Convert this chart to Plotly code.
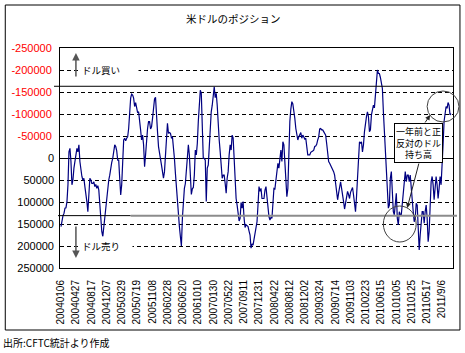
import datetime as dt
import pandas as pd
import plotly.graph_objects as go

# ---------------- data ----------------
title_text = "米ドルのポジション"
source_text = "出所:CFTC統計より作成"
buy_text = "ドル買い"
sell_text = "ドル売り"
note_text = "一年前と正<br>反対のドル<br>持ち高"

start_date = "2004-01-06"
end_date = "2011-11-11"

# net USD position (thousand contracts), roughly weekly
position_k = [
    156, 137, 131, 126, 114, 113, 99, 61, -14, -22,
    8, 61, 50, 23, 5, -7, -22, -14, -30, 8,
    35, 42, 50, 46, 65, 80, 99, 122, 69, 46,
    50, 58, 58, 54, 65, 60, 69, 63, 73, 107,
    137, 167, 179, 156, 141, 122, 95, 69, 50, 39,
    16, 10, 1, -11, -30, -26, -16, 5, 5, 46,
    84, 61, 12, -41, -45, -39, -45, -48, -67, -114,
    -136, -145, -143, -136, -117, -126, -115, -103, -105, -76,
    -64, -41, -52, -30, 20, -7, -45, -67, -83, -83,
    -66, -71, -90, -113, -134, -138, -109, -60, -26, -8,
    2, 16, 31, 46, 31, -14, -60, -79, -56, -58,
    -56, -46, -48, -30, 1, 35, 69, 103, 133, 156,
    179, 200, 137, 95, 69, 58, 31, 5, -30, -7,
    61, 83, 70, 67, 39, -18, -7, -33, -83, -139,
    -154, -147, -67, 1, 1, 5, 99, 23, 16, -33,
    -67, -105, -120, -143, -162, -137, -147, -120, -67, -41,
    -14, 20, 46, 39, 39, 58, 80, 46, 31, -7,
    -30, -18, -52, -46, 8, 54, 92, 107, 129, 143,
    137, 101, 114, 99, 137, 158, 152, 154, 156, 166,
    175, 205, 195, 198, 182, 175, 152, 145, 107, 65,
    76, 69, 92, 92, 92, 73, 65, 88, 114, 133,
    141, 135, 137, 111, 69, 70, 46, 21, 12, 23,
    -7, -18, 8, -37, -30, 16, 46, 88, 69, -11,
    -83, -111, -128, -123, -109, -90, -67, -54, -41, -48,
    -56, -58, -45, -52, -48, -43, -45, -22, -7, -7,
    -7, -13, -14, -16, -18, -26, -27, -31, -41, -48,
    -66, -67, -64, -64, -60, -56, -52, -33, -14, 8,
    12, 16, 20, 25, 31, 39, 54, 76, 95, 80,
    61, 54, 69, 80, 99, 116, 99, 88, 76, 83,
    92, 78, 69, 67, 84, 103, 122, 88, 46, 1,
    -37, -33, -37, -14, -30, -60, -83, -94, -105, -94,
    -60, -64, -98, -114, -120, -114, -143, -170, -200, -192,
    -192, -183, -173, -158, -105, -56, -7, 46, 84, 114,
    107, 46, 31, 80, 122, 129, 92, 80, 137, 152,
    122, 129, 129, 103, 69, 42, 31, 54, 39, 39,
    54, 39, 61, 95, 122, 145, 137, 103, 107, 171,
    209, 175, 152, 122, 122, 148, 122, 107, 137, 190,
    167, 103, 54, 42, 61, 95, 61, 42, 61, 92,
    69, 42, 61, 27, -30, -83, -105, -117, -113, -126,
    -120, -98, -101,
]

x_labels = [
    "20040106", "20040427", "20040817", "20041207", "20050329", "20050719",
    "20051108", "20060228", "20060620", "20061010", "20070130", "20070522",
    "20070911", "20071231", "20080422", "20080812", "20081202", "20090324",
    "20090714", "20091103", "20100223", "20100615", "20101005", "20110125",
    "20110517", "2011/9/6",
]

y_ticks = [-250000, -200000, -150000, -100000, -50000, 0,
           50000, 100000, 150000, 200000, 250000]

upper_ref = -163000
lower_ref = 131000

# ---------------- build ----------------
dates = pd.date_range(start_date, end_date, periods=len(position_k))
values = [v * 1000 for v in position_k]


def parse_label(s):
    fmt = "%Y/%m/%d" if "/" in s else "%Y%m%d"
    return dt.datetime.strptime(s, fmt)


x_tickvals = [parse_label(s) for s in x_labels]
neg_text = [str(v) if v < 0 else "" for v in y_ticks]
pos_ticks = [v for v in y_ticks if v >= 0]
pos_text = [str(v) for v in pos_ticks]

num_font = "Liberation Sans, Arial, sans-serif"
jp_font = "Noto Sans CJK JP, sans-serif"

fig = go.Figure()
fig.add_trace(go.Scatter(
    x=dates, y=values, mode="lines",
    line=dict(color="#000080", width=1.2),
    hoverinfo="skip", showlegend=False,
))
# invisible trace to activate the second (black-label) y axis
fig.add_trace(go.Scatter(
    x=[dates[0]], y=[values[0]], yaxis="y2", mode="markers",
    marker=dict(opacity=0), hoverinfo="skip", showlegend=False,
))

# plot geometry (pixels) used for decorations
L, R, T, B = 59, 454, 48, 268
W, H = R - L, B - T


def px(x):
    return (x - L) / W


def py(y):
    return (B - y) / H


shapes = [
    dict(type="rect", xref="paper", yref="paper",
         x0=px(4), x1=px(461), y0=py(330), y1=py(5),
         line=dict(color="black", width=1), layer="below"),
    dict(type="line", xref="paper", yref="y", x0=px(53), x1=1,
         y0=upper_ref, y1=upper_ref, line=dict(color="black", width=1)),
    dict(type="line", xref="paper", yref="y", x0=px(57), x1=px(130),
         y0=lower_ref, y1=lower_ref, line=dict(color="black", width=1)),
    dict(type="line", xref="paper", yref="y", x0=px(130), x1=px(458),
         y0=lower_ref, y1=lower_ref, line=dict(color="#8c8c8c", width=2)),
    dict(type="circle", xref="paper", yref="paper",
         x0=px(428), x1=px(460), y0=py(122), y1=py(91),
         line=dict(color="#404040", width=1)),
    dict(type="circle", xref="paper", yref="paper",
         x0=px(384), x1=px(417), y0=py(242), y1=py(206),
         line=dict(color="#404040", width=1)),
]

annotations = [
    dict(text=title_text, xref="paper", yref="paper", x=px(233), y=py(19),
         xanchor="center", yanchor="middle",
         showarrow=False, font=dict(family=jp_font, size=10.5, color="black")),
    dict(text=source_text, xref="paper", yref="paper", x=px(0), y=py(342),
         xanchor="left", yanchor="middle", showarrow=False,
         font=dict(family=jp_font, size=10, color="black")),
    dict(text=buy_text, xref="paper", yref="paper", x=px(78), y=py(70),
         xanchor="left", yanchor="middle", showarrow=False, width=54,
         align="left", bgcolor="white", borderpad=2,
         font=dict(family=jp_font, size=9.5, color="black")),
    dict(text=sell_text, xref="paper", yref="paper", x=px(78), y=py(246),
         xanchor="left", yanchor="middle", showarrow=False, width=48,
         align="left", bgcolor="white", borderpad=2,
         font=dict(family=jp_font, size=9.5, color="black")),
    dict(text="", xref="paper", yref="paper", x=px(75), y=py(53),
         ax=0, ay=25, showarrow=True, arrowhead=2, arrowsize=1,
         arrowwidth=1.5, arrowcolor="#555555"),
    dict(text="", xref="paper", yref="paper", x=px(75), y=py(258),
         ax=0, ay=-33, showarrow=True, arrowhead=2, arrowsize=1,
         arrowwidth=1.5, arrowcolor="#555555"),
    dict(text=note_text, xref="paper", yref="paper", x=px(419), y=py(143),
         xanchor="center", yanchor="middle",
         showarrow=False, bgcolor="white", bordercolor="black",
         borderwidth=1, borderpad=1,
         font=dict(family=jp_font, size=9, color="black")),
    dict(text="", xref="paper", yref="paper", x=px(431), y=py(115),
         ax=-6, ay=9, showarrow=True, arrowhead=2, arrowsize=1,
         arrowwidth=1, arrowcolor="#222222"),
    dict(text="", xref="paper", yref="paper", x=px(408), y=py(208),
         ax=12, ay=-46, showarrow=True, arrowhead=2, arrowsize=1,
         arrowwidth=1, arrowcolor="#222222"),
]

fig.update_layout(
    width=465, height=353,
    margin=dict(l=L, r=465 - R, t=T, b=353 - B, pad=0),
    paper_bgcolor="white", plot_bgcolor="white",
    shapes=shapes, annotations=annotations,
    showlegend=False,
    yaxis2=dict(
        overlaying="y", side="left", range=[250000, -250000],
        tickmode="array", tickvals=pos_ticks, ticktext=pos_text,
        ticks="", ticklabelstandoff=5, showgrid=False, zeroline=False,
        showline=False,
        tickfont=dict(family=num_font, size=11, color="black"),
    ),
)

fig.update_xaxes(
    type="date",
    range=[dt.datetime(2003, 12, 29, 16, 30), dt.datetime(2011, 11, 25, 10, 0)],
    tickmode="array", tickvals=x_tickvals, ticktext=x_labels,
    tickangle=-90, ticks="", ticklabelstandoff=7,
    tickfont=dict(family=num_font, size=10, color="black"),
    showgrid=False, zeroline=False,
    showline=True, linecolor="black", linewidth=1, mirror=True,
)

fig.update_layout(yaxis=dict(
    range=[250000, -250000],
    tickmode="array", tickvals=y_ticks, ticktext=neg_text,
    ticks="", ticklabelstandoff=5,
    tickfont=dict(family=num_font, size=11, color="#FF0000"),
    showgrid=True, gridcolor="black", gridwidth=1, griddash="4px,3px",
    zeroline=True, zerolinecolor="black", zerolinewidth=1,
    showline=True, linecolor="black", linewidth=1, mirror=True,
))

fig.write_html("out.html")
